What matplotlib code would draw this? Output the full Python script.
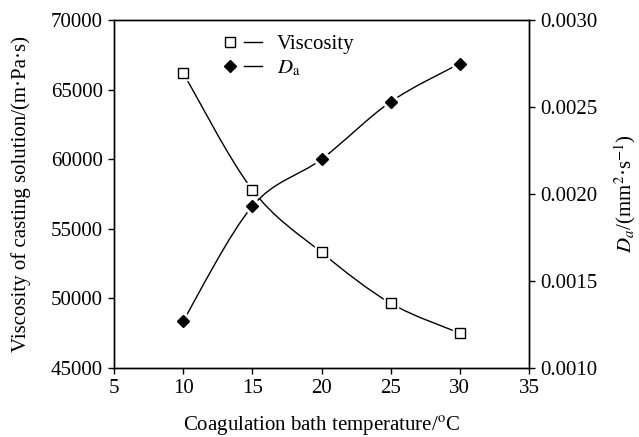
import matplotlib
matplotlib.use("Agg")
import matplotlib.pyplot as plt
import numpy as np
from matplotlib.lines import Line2D
from matplotlib.path import Path
from matplotlib.patches import PathPatch
from matplotlib.legend_handler import HandlerTuple

plt.rcParams["font.family"] = ["Liberation Serif", "DejaVu Serif"]
plt.rcParams["mathtext.fontset"] = "stix"

temperature = [10, 15, 20, 25, 30]
viscosity = [66200, 57800, 53300, 49650, 47500]
da = [0.00127, 0.00193, 0.00220, 0.00253, 0.00275]

x_ticks = [5, 10, 15, 20, 25, 30, 35]
visc_ticks = [45000, 50000, 55000, 60000, 65000, 70000]
da_ticks = [0.0010, 0.0015, 0.0020, 0.0025, 0.0030]


def smooth_path(xs, ys):
    """Catmull-Rom curve through the points, as cubic Bezier segments."""
    pts = np.column_stack([xs, ys]).astype(float)
    ext = np.vstack([pts[0], pts, pts[-1]])
    verts = [pts[0]]
    codes = [Path.MOVETO]
    for i in range(1, len(ext) - 2):
        p0, p1, p2, p3 = ext[i - 1], ext[i], ext[i + 1], ext[i + 2]
        verts += [p1 + (p2 - p0) / 6, p2 - (p3 - p1) / 6, p2]
        codes += [Path.CURVE4] * 3
    return Path(verts, codes)


fig = plt.figure(figsize=(6.39, 4.37), dpi=100)
ax = fig.add_axes([0.1784, 0.1579, 0.6495, 0.7963])
ax2 = ax.twinx()

lw = 1.0
ax.add_patch(PathPatch(smooth_path(temperature, viscosity), fill=False,
                       lw=lw, color="black", zorder=2))
ax.plot(temperature, viscosity, ls="none", marker="s", ms=10,
        mfc="white", mec="white", zorder=3)
ax.plot(temperature, viscosity, ls="none", marker="s", ms=6.5,
        mfc="white", mec="black", mew=1.0, zorder=4)

ax2.add_patch(PathPatch(smooth_path(temperature, da), fill=False,
                        lw=lw, color="black", zorder=2))
ax2.plot(temperature, da, ls="none", marker="D", ms=10,
         mfc="white", mec="white", zorder=3)
ax2.plot(temperature, da, ls="none", marker="D", ms=6.5,
         mfc="black", mec="black", zorder=4)

ax.set_xlim(5, 35)
ax.set_ylim(45000, 70000)
ax2.set_ylim(0.0010, 0.0030)
ax.set_xticks(x_ticks)
ax.set_yticks(visc_ticks)
ax2.set_yticks(da_ticks)
ax2.set_yticklabels([f"{v:.4f}" for v in da_ticks])

for a in (ax, ax2):
    for s in a.spines.values():
        s.set_linewidth(1.0)
    a.tick_params(direction="out", length=4.5, width=1.0, labelsize=15, pad=3.5)

ax.set_xlabel("Coagulation bath temperature/$^{\\mathrm{o}}$C",
              fontsize=15, labelpad=12)
ax.set_ylabel("Viscosity of casting solution/(m·Pa·s)", fontsize=15, labelpad=14)
ax2.set_ylabel("$D_a$/(mm$^2$·s$^{-1}$)", fontsize=15, labelpad=11)

# legend: marker, then a short line segment, then the label
sq = Line2D([], [], ls="none", marker="s", ms=6.5, mfc="white", mec="black")
dm = Line2D([], [], ls="none", marker="D", ms=6.5, mfc="black", mec="black")
seg = Line2D([], [], color="black", lw=1.0)
ax2.legend([(sq, seg), (dm, seg)], ["Viscosity", "$D_{\\mathrm{a}}$"],
           handler_map={tuple: HandlerTuple(ndivide=None, pad=0.25)},
           loc="upper left", bbox_to_anchor=(0.316, 0.964),
           bbox_transform=fig.transFigure, frameon=False, fontsize=15,
           handlelength=2.0, handletextpad=0.7, labelspacing=0.2)

fig.savefig("out.png", dpi=100)
